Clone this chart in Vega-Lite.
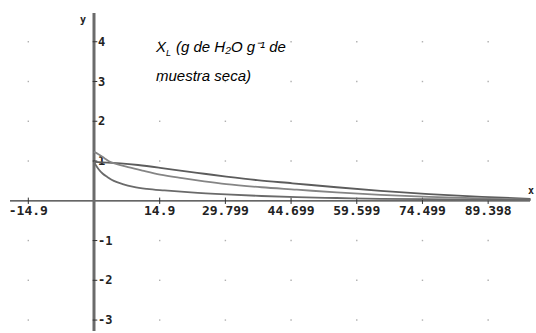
{
  "$schema": "https://vega.github.io/schema/vega-lite/v6.json",
  "width": 536,
  "height": 333,
  "autosize": {"type": "fit", "contains": "padding"},
  "padding": 0,
  "background": "white",
  "config": {"view": {"stroke": null}},
  "datasets": {
    "curves": [
      {"x": 0, "y": 0.98, "c": "B"}, {"x": 3, "y": 0.96, "c": "B"}, {"x": 6, "y": 0.94, "c": "B"}, {"x": 10, "y": 0.9, "c": "B"}, {"x": 15, "y": 0.83, "c": "B"}, {"x": 20, "y": 0.75, "c": "B"}, {"x": 25, "y": 0.68, "c": "B"}, {"x": 30, "y": 0.61, "c": "B"}, {"x": 37, "y": 0.52, "c": "B"}, {"x": 45, "y": 0.44, "c": "B"}, {"x": 55, "y": 0.34, "c": "B"}, {"x": 65, "y": 0.25, "c": "B"}, {"x": 76, "y": 0.17, "c": "B"}, {"x": 88, "y": 0.1, "c": "B"}, {"x": 99, "y": 0.05, "c": "B"},
      {"x": 0, "y": 1.23, "c": "A"}, {"x": 1, "y": 1.17, "c": "A"}, {"x": 2.5, "y": 1.06, "c": "A"}, {"x": 3.5, "y": 0.99, "c": "A"}, {"x": 5, "y": 0.93, "c": "A"}, {"x": 8, "y": 0.84, "c": "A"}, {"x": 11, "y": 0.76, "c": "A"}, {"x": 15, "y": 0.66, "c": "A"}, {"x": 20, "y": 0.57, "c": "A"}, {"x": 25, "y": 0.49, "c": "A"}, {"x": 30, "y": 0.42, "c": "A"}, {"x": 38, "y": 0.34, "c": "A"}, {"x": 46, "y": 0.28, "c": "A"}, {"x": 55, "y": 0.21, "c": "A"}, {"x": 65, "y": 0.15, "c": "A"}, {"x": 76, "y": 0.1, "c": "A"}, {"x": 88, "y": 0.06, "c": "A"}, {"x": 99, "y": 0.03, "c": "A"},
      {"x": 0, "y": 0.98, "c": "C"}, {"x": 0.5, "y": 0.88, "c": "C"}, {"x": 1, "y": 0.8, "c": "C"}, {"x": 2, "y": 0.68, "c": "C"}, {"x": 3, "y": 0.6, "c": "C"}, {"x": 4.5, "y": 0.5, "c": "C"}, {"x": 6.5, "y": 0.42, "c": "C"}, {"x": 9, "y": 0.35, "c": "C"}, {"x": 12, "y": 0.3, "c": "C"}, {"x": 16, "y": 0.26, "c": "C"}, {"x": 22, "y": 0.21, "c": "C"}, {"x": 30, "y": 0.16, "c": "C"}, {"x": 38, "y": 0.12, "c": "C"}, {"x": 46, "y": 0.09, "c": "C"}, {"x": 55, "y": 0.07, "c": "C"}, {"x": 65, "y": 0.05, "c": "C"}, {"x": 75, "y": 0.04, "c": "C"}, {"x": 85, "y": 0.03, "c": "C"}, {"x": 99, "y": 0.02, "c": "C"}
    ],
    "grid": [
      {"x": -14.9, "y": 4}, {"x": 14.9, "y": 4}, {"x": 29.799, "y": 4}, {"x": 44.699, "y": 4}, {"x": 59.599, "y": 4}, {"x": 74.499, "y": 4}, {"x": 89.398, "y": 4},
      {"x": -14.9, "y": 3}, {"x": 14.9, "y": 3}, {"x": 29.799, "y": 3}, {"x": 44.699, "y": 3}, {"x": 59.599, "y": 3}, {"x": 74.499, "y": 3}, {"x": 89.398, "y": 3},
      {"x": -14.9, "y": 2}, {"x": 14.9, "y": 2}, {"x": 29.799, "y": 2}, {"x": 44.699, "y": 2}, {"x": 59.599, "y": 2}, {"x": 74.499, "y": 2}, {"x": 89.398, "y": 2},
      {"x": -14.9, "y": 1}, {"x": 14.9, "y": 1}, {"x": 29.799, "y": 1}, {"x": 44.699, "y": 1}, {"x": 59.599, "y": 1}, {"x": 74.499, "y": 1}, {"x": 89.398, "y": 1},
      {"x": -14.9, "y": -1}, {"x": 14.9, "y": -1}, {"x": 29.799, "y": -1}, {"x": 44.699, "y": -1}, {"x": 59.599, "y": -1}, {"x": 74.499, "y": -1}, {"x": 89.398, "y": -1},
      {"x": -14.9, "y": -2}, {"x": 14.9, "y": -2}, {"x": 29.799, "y": -2}, {"x": 44.699, "y": -2}, {"x": 59.599, "y": -2}, {"x": 74.499, "y": -2}, {"x": 89.398, "y": -2},
      {"x": -14.9, "y": -3}, {"x": 14.9, "y": -3}, {"x": 29.799, "y": -3}, {"x": 44.699, "y": -3}, {"x": 59.599, "y": -3}, {"x": 74.499, "y": -3}, {"x": 89.398, "y": -3}
    ],
    "xticks": [
      {"x": -14.9, "label": "-14.9"}, {"x": 14.9, "label": "14.9"}, {"x": 29.799, "label": "29.799"}, {"x": 44.699, "label": "44.699"}, {"x": 59.599, "label": "59.599"}, {"x": 74.499, "label": "74.499"}, {"x": 89.398, "label": "89.398"}
    ],
    "yticks": [
      {"y": 4, "label": "4"}, {"y": 3, "label": "3"}, {"y": 2, "label": "2"}, {"y": 1, "label": "1"}, {"y": -1, "label": "-1"}, {"y": -2, "label": "-2"}, {"y": -3, "label": "-3"}
    ]
  },
  "layer": [
    {
      "data": {"name": "grid"},
      "mark": {"type": "square", "size": 2, "color": "#b0b0b0", "opacity": 1},
      "encoding": {
        "x": {"field": "x", "type": "quantitative", "scale": {"domain": [-21.32, 100.25], "nice": false, "zero": false, "padding": 0}, "axis": null},
        "y": {"field": "y", "type": "quantitative", "scale": {"domain": [-3.275, 5.05], "nice": false, "zero": false, "padding": 0}, "axis": null}
      }
    },
    {
      "data": {"values": [{}]},
      "mark": {"type": "rule", "color": "#333333", "strokeWidth": 1.2},
      "encoding": {
        "x": {"datum": -19.05, "type": "quantitative", "axis": null},
        "x2": {"datum": 98.9},
        "y": {"datum": 0, "type": "quantitative", "axis": null}
      }
    },
    {
      "data": {"values": [{}]},
      "mark": {"type": "rule", "color": "#6b6b6b", "strokeWidth": 3},
      "encoding": {
        "x": {"datum": 0, "type": "quantitative", "axis": null},
        "y": {"datum": 4.72, "type": "quantitative", "axis": null},
        "y2": {"datum": -3.275}
      }
    },
    {
      "data": {"name": "xticks"},
      "mark": {"type": "rule", "color": "#333333", "strokeWidth": 1},
      "encoding": {
        "x": {"field": "x", "type": "quantitative", "axis": null},
        "y": {"datum": -0.08, "type": "quantitative", "axis": null},
        "y2": {"datum": 0.08}
      }
    },
    {
      "data": {"name": "xticks"},
      "mark": {"type": "text", "font": "DejaVu Sans Mono", "fontWeight": "bold", "fontSize": 13, "baseline": "middle", "align": "center", "dy": 10, "color": "#222222"},
      "encoding": {
        "x": {"field": "x", "type": "quantitative", "axis": null},
        "y": {"datum": 0, "type": "quantitative", "axis": null},
        "text": {"field": "label"}
      }
    },
    {
      "data": {"name": "yticks"},
      "mark": {"type": "rule", "color": "#333333", "strokeWidth": 1},
      "encoding": {
        "x": {"datum": -0.3, "type": "quantitative", "axis": null},
        "x2": {"datum": 0.75},
        "y": {"field": "y", "type": "quantitative", "axis": null}
      }
    },
    {
      "data": {"name": "yticks"},
      "mark": {"type": "text", "font": "DejaVu Sans Mono", "fontWeight": "bold", "fontSize": 12, "baseline": "middle", "align": "left", "dx": 4, "color": "#222222"},
      "encoding": {
        "x": {"datum": 0, "type": "quantitative", "axis": null},
        "y": {"field": "y", "type": "quantitative", "axis": null},
        "text": {"field": "label"}
      }
    },
    {
      "data": {"values": [{}]},
      "mark": {"type": "text", "font": "DejaVu Sans Mono", "fontWeight": "bold", "fontSize": 10, "baseline": "middle", "align": "center", "text": "y", "color": "#222222"},
      "encoding": {
        "x": {"datum": -2.5, "type": "quantitative", "axis": null},
        "y": {"datum": 4.55, "type": "quantitative", "axis": null}
      }
    },
    {
      "data": {"values": [{}]},
      "mark": {"type": "text", "font": "DejaVu Sans Mono", "fontWeight": "bold", "fontSize": 10, "baseline": "middle", "align": "center", "text": "x", "color": "#222222"},
      "encoding": {
        "x": {"datum": 99.1, "type": "quantitative", "axis": null},
        "y": {"datum": 0.24, "type": "quantitative", "axis": null}
      }
    },
    {
      "data": {"name": "curves"},
      "mark": {"type": "line", "strokeWidth": 1.8, "interpolate": "monotone"},
      "encoding": {
        "x": {"field": "x", "type": "quantitative", "axis": null},
        "y": {"field": "y", "type": "quantitative", "axis": null},
        "color": {"field": "c", "type": "nominal", "scale": {"domain": ["A", "B", "C"], "range": ["#858585", "#5c5c5c", "#6a6a6a"]}, "legend": null}
      }
    },
    {
      "data": {"values": [{}]},
      "mark": {"type": "text", "font": "Liberation Sans", "fontStyle": "italic", "fontSize": 15, "baseline": "alphabetic", "align": "left", "text": "X", "color": "black"},
      "encoding": {
        "x": {"datum": 14.06, "type": "quantitative", "axis": null},
        "y": {"datum": 3.75, "type": "quantitative", "axis": null}
      }
    },
    {
      "data": {"values": [{}]},
      "mark": {"type": "text", "font": "Liberation Sans", "fontStyle": "italic", "fontSize": 9, "baseline": "alphabetic", "align": "left", "text": "L", "dx": 10, "dy": 4, "color": "black"},
      "encoding": {
        "x": {"datum": 14.06, "type": "quantitative", "axis": null},
        "y": {"datum": 3.75, "type": "quantitative", "axis": null}
      }
    },
    {
      "data": {"values": [{}]},
      "mark": {"type": "text", "font": "Liberation Sans", "fontStyle": "italic", "fontSize": 15, "baseline": "alphabetic", "align": "left", "text": "(g de H₂O g⁻¹ de", "dx": 20, "color": "black"},
      "encoding": {
        "x": {"datum": 14.06, "type": "quantitative", "axis": null},
        "y": {"datum": 3.75, "type": "quantitative", "axis": null}
      }
    },
    {
      "data": {"values": [{}]},
      "mark": {"type": "text", "font": "Liberation Sans", "fontStyle": "italic", "fontSize": 15, "baseline": "alphabetic", "align": "left", "text": "muestra seca)", "color": "black"},
      "encoding": {
        "x": {"datum": 14.06, "type": "quantitative", "axis": null},
        "y": {"datum": 3.025, "type": "quantitative", "axis": null}
      }
    }
  ]
}
